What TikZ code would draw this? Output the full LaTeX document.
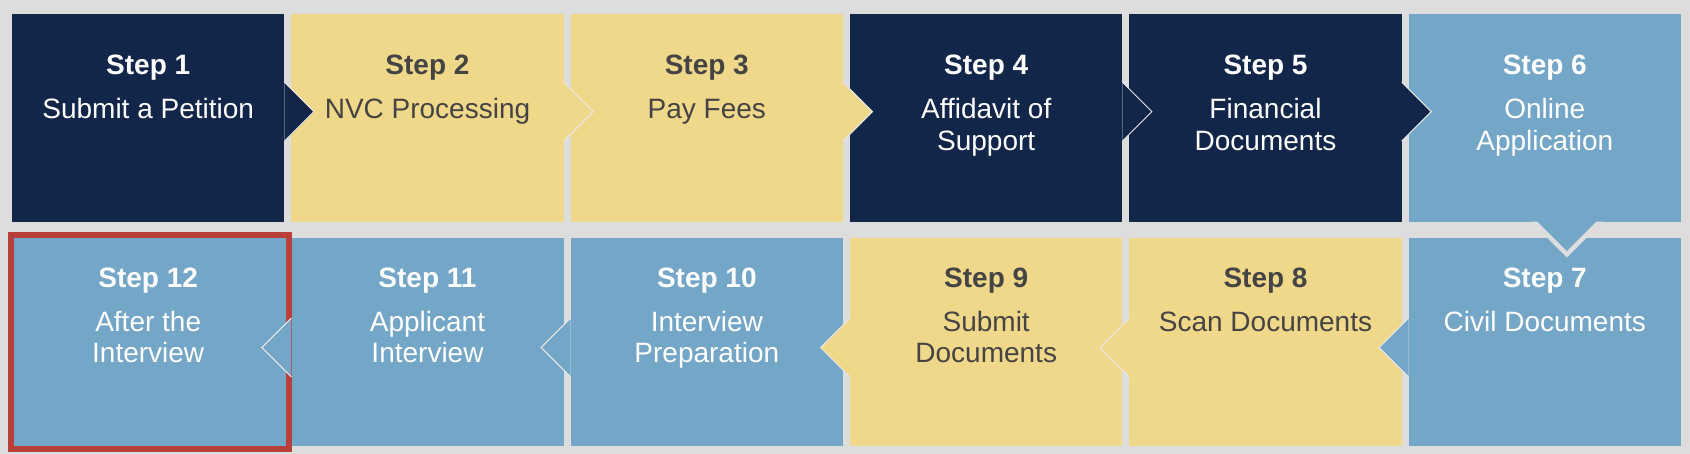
\documentclass[tikz,border=0pt]{standalone}
\usepackage{fontspec}
\setmainfont{Liberation Sans}
\usepackage{xcolor}
\definecolor{visanavy}{HTML}{12264A}
\definecolor{visagold}{HTML}{F0D88A}
\definecolor{visasky}{HTML}{74A6C8}
\definecolor{visabg}{HTML}{DDDDDD}
\definecolor{visaedge}{HTML}{E8E8E8}
\definecolor{visared}{HTML}{B9403A}
\definecolor{visaink}{HTML}{444444}
\usepackage{tikz}
\usetikzlibrary{positioning}

\begin{document}
\begin{tikzpicture}[
  x=0.5pt, y=-0.5pt,
  stepbox/.style={minimum width=136.17pt, minimum height=103.7pt, inner sep=0pt, outer sep=0pt},
  navybox/.style={stepbox, fill=visanavy},
  goldbox/.style={stepbox, fill=visagold},
  skybox/.style={stepbox, fill=visasky},
  lighttxt/.style={text=white, align=center, anchor=north, inner sep=0pt,
                   font=\fontsize{14}{15.85}\selectfont},
  darktxt/.style={lighttxt, text=visaink},
  fwd/.style={draw=visaedge, line width=0.5pt},
  doneframe/.style={draw=visared, fill=visasky, line width=3pt},
]
\useasboundingbox (0,0) rectangle (1690,454);
\fill[visabg] (0,0) rectangle (1690,454);
% first row
\node[navybox] (s1) at (148.2,117.85)  {};
\node[goldbox] (s2) at (427.5,117.85)  {};
\node[goldbox] (s3) at (706.8,117.85)  {};
\node[navybox] (s4) at (986.2,117.85)  {};
\node[navybox] (s5) at (1265.5,117.85) {};
\node[skybox]  (s6) at (1544.8,117.85) {};
% second row, right to left
\node[skybox]  (s7)  at (1544.8,342) {};
\node[goldbox] (s8)  at (1265.5,342) {};
\node[goldbox] (s9)  at (986.2,342)  {};
\node[skybox]  (s10) at (706.8,342)  {};
\node[skybox]  (s11) at (427.5,342)  {};
\node[skybox]  (s12) at (148.2,342)  {};
% current step
\draw[doneframe] ([shift={(-1,-3.3)}]s12.north west) rectangle ([shift={(4.7,3.3)}]s12.south east);

% pointers, first row
\filldraw[fwd, fill=visanavy] (s1.north east) ++(0,68) -- ++(29.5,29.5) -- ++(-29.5,29.5);
\filldraw[fwd, fill=visagold] (s2.north east) ++(0,68) -- ++(29.5,29.5) -- ++(-29.5,29.5);
\filldraw[fwd, fill=visagold] (s3.north east) ++(0,68) -- ++(29.5,29.5) -- ++(-29.5,29.5);
\filldraw[fwd, fill=visanavy] (s4.north east) ++(0,68) -- ++(29.5,29.5) -- ++(-29.5,29.5);
\filldraw[fwd, fill=visanavy] (s5.north east) ++(0,68) -- ++(29.5,29.5) -- ++(-29.5,29.5);
% turn down
\fill[visabg]  (s6.south) ++(-14,0) -- ++(36,36) -- ++(36,-36) -- cycle;
\fill[visasky] (s6.south) ++(-8.5,-1) -- ++(30.5,30.5) -- ++(30.5,-30.5) -- cycle;
% pointers, second row
\filldraw[fwd, fill=visasky]  (s7.north west)  ++(0,79.7) -- ++(-29.5,29.5) -- ++(29.5,29.5);
\filldraw[fwd, fill=visagold] (s8.north west)  ++(0,79.7) -- ++(-29.5,29.5) -- ++(29.5,29.5);
\filldraw[fwd, fill=visagold] (s9.north west)  ++(0,79.7) -- ++(-29.5,29.5) -- ++(29.5,29.5);
\filldraw[fwd, fill=visasky]  (s10.north west) ++(0,79.7) -- ++(-29.5,29.5) -- ++(29.5,29.5);
\filldraw[fwd, fill=visasky]  (s11.north west) ++(0,79.7) -- ++(-29.5,29.5) -- ++(29.5,29.5);

% labels
\node[lighttxt] (t1) at (148.2,55)  {\textbf{Step 1}\\[5.85pt]Submit a Petition};
\node[darktxt]  (t2) at (427.5,55)  {\textbf{Step 2}\\[5.85pt]NVC Processing};
\node[darktxt]  (t3) at (706.8,55)  {\textbf{Step 3}\\[5.85pt]Pay Fees};
\node[lighttxt] (t4) at (986.2,55)  {\textbf{Step 4}\\[5.85pt]Affidavit of\\Support};
\node[lighttxt] (t5) at (1265.5,55) {\textbf{Step 5}\\[5.85pt]Financial\\Documents};
\node[lighttxt] (t6) at (1544.8,55) {\textbf{Step 6}\\[5.85pt]Online\\Application};
\node[lighttxt] (t7)  at (1544.8,267.8) {\textbf{Step 7}\\[5.85pt]Civil Documents};
\node[darktxt]  (t8)  at (1265.5,267.8) {\textbf{Step 8}\\[5.85pt]Scan Documents};
\node[darktxt]  (t9)  at (986.2,267.8)  {\textbf{Step 9}\\[5.85pt]Submit\\Documents};
\node[lighttxt] (t10) at (706.8,267.8)  {\textbf{Step 10}\\[5.85pt]Interview\\Preparation};
\node[lighttxt] (t11) at (427.5,267.8)  {\textbf{Step 11}\\[5.85pt]Applicant\\Interview};
\node[lighttxt] (t12) at (148.2,267.8)  {\textbf{Step 12}\\[5.85pt]After the\\Interview};
\end{tikzpicture}
\end{document}
